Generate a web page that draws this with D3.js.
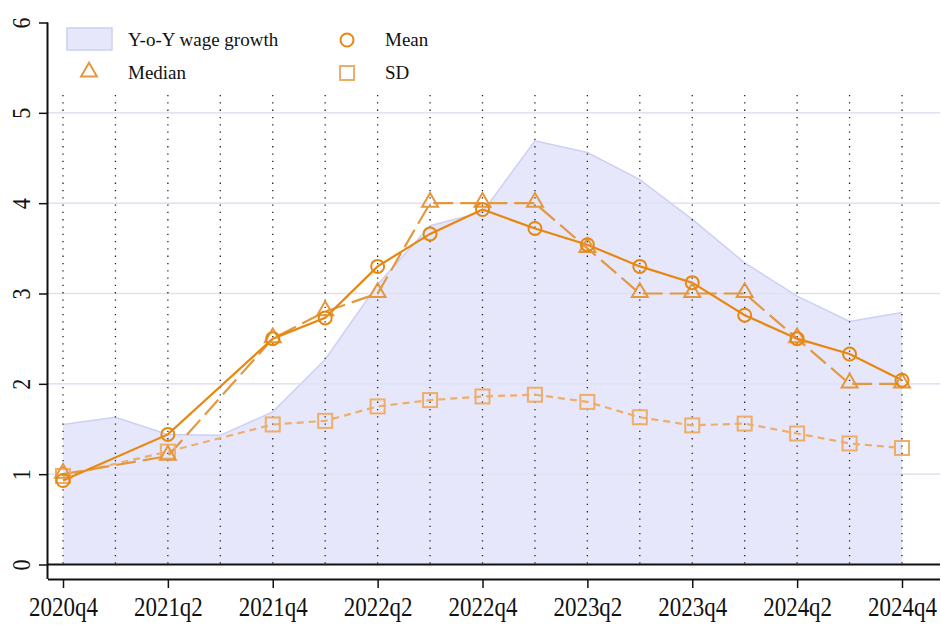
<!DOCTYPE html>
<html>
<head>
<meta charset="utf-8">
<script src="https://cdn.jsdelivr.net/npm/d3@7"></script>
<style>
  body { margin: 0; background: #fff; }
  svg { display: block; }
  text { font-family: "Liberation Serif", "Times New Roman", serif; fill: #111; }
</style>
</head>
<body>
<svg width="941" height="629"></svg>
<script>
// quarters on the x axis
let quarters = ["2020q4","2021q1","2021q2","2021q3","2021q4","2022q1","2022q2","2022q3","2022q4",
                "2023q1","2023q2","2023q3","2023q4","2024q1","2024q2","2024q3","2024q4"];
let tickQuarters = ["2020q4","2021q2","2021q4","2022q2","2022q4","2023q2","2023q4","2024q2","2024q4"];

// y-o-y wage growth (area), every quarter
let wageGrowth = [1.55,1.63,1.44,1.43,1.69,2.27,3.1,3.75,3.9,4.69,4.56,4.26,3.82,3.34,2.97,2.69,2.79];

// survey quarters and stats
let surveyQuarters = ["2020q4","2021q2","2021q4","2022q1","2022q2","2022q3","2022q4",
                      "2023q1","2023q2","2023q3","2023q4","2024q1","2024q2","2024q3","2024q4"];
let meanVals   = [0.93,1.44,2.5,2.73,3.3,3.66,3.93,3.72,3.54,3.3,3.12,2.76,2.5,2.33,2.04];
let medianVals = [1.0,1.2,2.5,2.8,3.0,4.0,4.0,4.0,3.5,3.0,3.0,3.0,2.5,2.0,2.0];
let sdVals     = [0.98,1.25,1.55,1.59,1.75,1.82,1.86,1.88,1.8,1.63,1.54,1.56,1.45,1.34,1.29];

let yTicks = [0,1,2,3,4,5,6];

let svg = d3.select("svg");

let x = d3.scalePoint().domain(quarters).range([63, 902]);
let y = d3.scaleLinear().domain([0, 6]).range([564.5, 22.5]);

let left = 48, right = 940, bottom = 579;

// horizontal grid
svg.append("g")
    .selectAll("line")
    .data(yTicks.filter(d => d > 0 && d < 6))
    .join("line")
    .attr("x1", left).attr("x2", right)
    .attr("y1", d => y(d)).attr("y2", d => y(d))
    .attr("stroke", "#e9e9f1").attr("stroke-width", 1.5);

// wage growth area
let area = d3.area()
    .x((d, i) => x(quarters[i]))
    .y0(y(0))
    .y1(d => y(d));

svg.append("path")
    .datum(wageGrowth)
    .attr("fill", "#e6e7fb")
    .attr("d", area);

svg.append("path")
    .datum(wageGrowth)
    .attr("fill", "none")
    .attr("stroke", "#cdd0f4")
    .attr("stroke-width", 1.5)
    .attr("d", d3.line().x((d, i) => x(quarters[i])).y(d => y(d)));

// grid lines again on top of the area, faintly
svg.append("g")
    .selectAll("line")
    .data(yTicks.filter(d => d > 0 && d < 6))
    .join("line")
    .attr("x1", left).attr("x2", right)
    .attr("y1", d => y(d)).attr("y2", d => y(d))
    .attr("stroke", "#d9dbf3").attr("stroke-width", 1.2)
    .attr("stroke-opacity", 0.6);

// vertical dotted lines
svg.append("g")
    .selectAll("line")
    .data(quarters)
    .join("line")
    .attr("x1", d => x(d)).attr("x2", d => x(d))
    .attr("y1", 95).attr("y2", y(0))
    .attr("stroke", "#222")
    .attr("stroke-width", 1.3)
    .attr("stroke-dasharray", "1.3,6");

// zero line
svg.append("line")
    .attr("x1", left).attr("x2", right)
    .attr("y1", y(0)).attr("y2", y(0))
    .attr("stroke", "#111").attr("stroke-width", 2.2);

// series lines
let sx = (d, i) => x(surveyQuarters[i]);

function drawLine(vals, color, dash, width) {
    svg.append("path")
        .datum(vals)
        .attr("fill", "none")
        .attr("stroke", color)
        .attr("stroke-width", width)
        .attr("stroke-dasharray", dash)
        .attr("d", d3.line().x(sx).y(d => y(d)));
}

let sdColor = "#eead68", medColor = "#e3983f", meanColor = "#e8870f";

drawLine(sdVals, sdColor, "7,5", 2.2);
drawLine(medianVals, medColor, "20,7", 2.2);
drawLine(meanVals, meanColor, null, 2.2);

let tri = d3.symbol().type(d3.symbolTriangle).size(110);

// markers
svg.append("g").selectAll("rect")
    .data(sdVals).join("rect")
    .attr("x", (d, i) => sx(d, i) - 7).attr("y", d => y(d) - 7)
    .attr("width", 14).attr("height", 14)
    .attr("fill", "none").attr("stroke", sdColor).attr("stroke-width", 2);

svg.append("g").selectAll("path")
    .data(medianVals).join("path")
    .attr("d", tri)
    .attr("transform", (d, i) => `translate(${sx(d, i)},${y(d) - 1})`)
    .attr("fill", "none").attr("stroke", medColor).attr("stroke-width", 2);

svg.append("g").selectAll("circle")
    .data(meanVals).join("circle")
    .attr("cx", sx).attr("cy", d => y(d)).attr("r", 6.5)
    .attr("fill", "none").attr("stroke", meanColor).attr("stroke-width", 2);

// axes
let yAxis = d3.axisLeft(y).tickValues(yTicks).tickSize(9).tickFormat(d3.format("d"));
let gy = svg.append("g").attr("transform", `translate(${left},0)`).call(yAxis);
gy.select(".domain").attr("d", `M-0.5,${y(6)}V${bottom}`).attr("stroke", "#111").attr("stroke-width", 2);
gy.selectAll(".tick line").attr("stroke", "#111").attr("stroke-width", 1.5);
gy.selectAll(".tick text")
    .attr("x", 0).attr("dy", 0)
    .attr("transform", "translate(-27,0) rotate(-90) scale(1,1.15)")
    .attr("text-anchor", "middle")
    .attr("dominant-baseline", "central")
    .style("font-size", "22px")
    .style("font-family", "Liberation Serif");

let xAxis = d3.axisBottom(x).tickValues(tickQuarters).tickSize(9);
let gx = svg.append("g").attr("transform", `translate(0,${bottom})`).call(xAxis);
gx.select(".domain").attr("d", `M${left},0.5H${right}`).attr("stroke", "#111").attr("stroke-width", 2);
gx.selectAll(".tick line").attr("stroke", "#111").attr("stroke-width", 1.5);
gx.selectAll(".tick text")
    .attr("y", 0).attr("dy", 0)
    .attr("transform", "translate(0,37) scale(1,1.15)")
    .style("font-size", "23px")
    .style("font-family", "Liberation Serif");

// legend
let leg = svg.append("g").style("font-size", "19px");
leg.append("rect").attr("x", 67).attr("y", 28).attr("width", 45).attr("height", 22)
    .attr("fill", "#e6e7fb").attr("stroke", "#cdd0f4").attr("stroke-width", 1.5);
leg.append("text").attr("x", 128).attr("y", 46).text("Y-o-Y wage growth");
leg.append("path").attr("d", tri).attr("transform", "translate(89,72)")
    .attr("fill", "none").attr("stroke", medColor).attr("stroke-width", 2);
leg.append("text").attr("x", 128).attr("y", 79).text("Median");
leg.append("circle").attr("cx", 347).attr("cy", 40).attr("r", 6.5)
    .attr("fill", "none").attr("stroke", meanColor).attr("stroke-width", 2);
leg.append("text").attr("x", 385).attr("y", 46).text("Mean");
leg.append("rect").attr("x", 340).attr("y", 66).attr("width", 14).attr("height", 14)
    .attr("fill", "none").attr("stroke", sdColor).attr("stroke-width", 2);
leg.append("text").attr("x", 385).attr("y", 79).text("SD");
</script>
</body>
</html>
